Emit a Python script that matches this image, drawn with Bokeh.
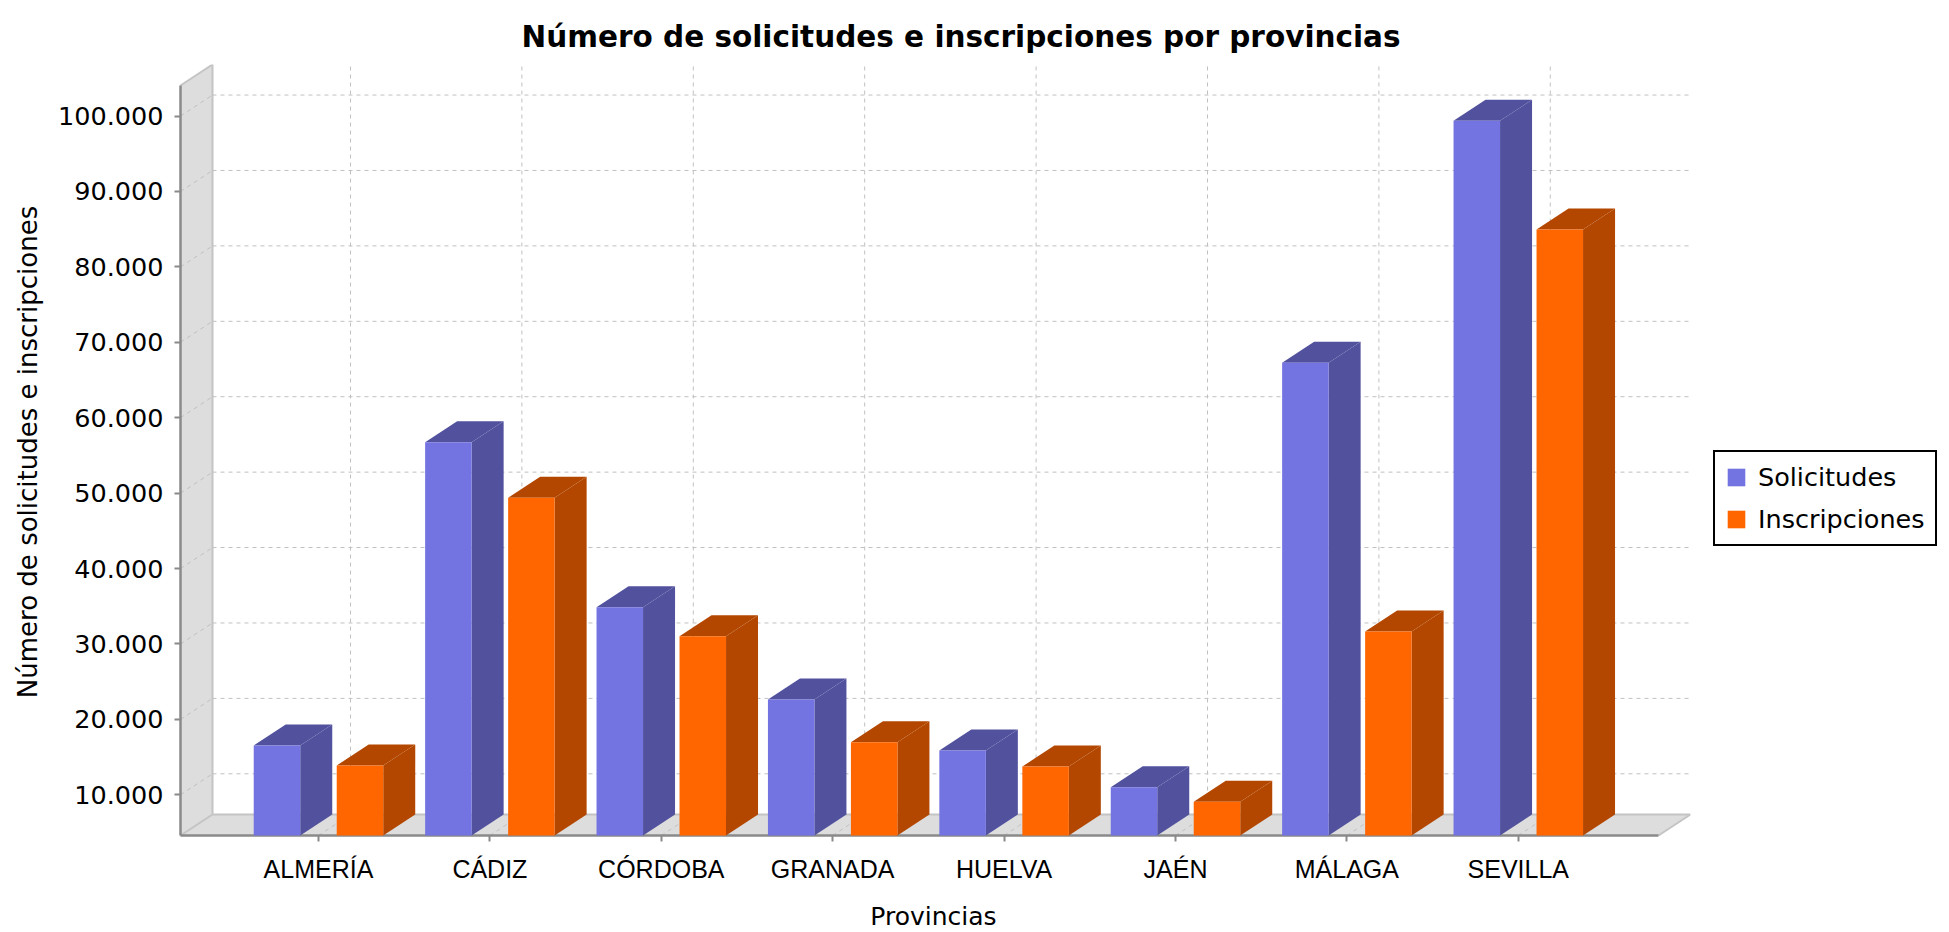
from bokeh.plotting import figure
from bokeh.models import Range1d, FixedTicker, Legend, LegendItem
from bokeh.embed import file_html
from bokeh.resources import INLINE

# ---------------- data ----------------
provincias = ["ALMERÍA", "CÁDIZ", "CÓRDOBA", "GRANADA", "HUELVA", "JAÉN", "MÁLAGA", "SEVILLA"]
solicitudes = [16540, 56750, 34870, 22640, 15870, 11010, 67280, 99370]
inscripciones = [13890, 49380, 31030, 16970, 13750, 9070, 31650, 84950]
series_names = ["Solicitudes", "Inscripciones"]
y_ticks = [10000, 20000, 30000, 40000, 50000, 60000, 70000, 80000, 90000, 100000]
y_tick_labels = ["10.000", "20.000", "30.000", "40.000", "50.000",
                 "60.000", "70.000", "80.000", "90.000", "100.000"]
title_text = "Número de solicitudes e inscripciones por provincias"
x_title = "Provincias"
y_title = "Número de solicitudes e inscripciones"

# ---------------- styling / 3D geometry ----------------
FRONT = ["#7373e1", "#ff6600"]
DARK = ["#51519e", "#b34700"]
WALL = "#dddddd"
WALL_EDGE = "#c4c4c4"
GRID = "#c0c0c0"
AXIS = "#8a8a8a"

Y_MIN = 4604          # value at the front floor line
Y_TOP = 104050        # value at the top of the front axis
DY = 2785             # depth offset in value units
X0, X1 = -0.805, 7.818  # front extent of category axis
DX = 0.1867           # depth offset in category units
BAR_W = 0.2713
BAR_OFF = 0.2421
PAD_X = 4 / 171.39
PAD_Y = 4 * 10000 / 75.42

p = figure(
    frame_width=1514, frame_height=775,
    x_range=Range1d(X0 - PAD_X, X1 + DX),
    y_range=Range1d(Y_MIN - PAD_Y, Y_TOP + DY),
    output_backend="svg", toolbar_location=None,
    min_border_left=176, min_border_top=64, min_border_right=245, min_border_bottom=80,
    background_fill_color="white", border_fill_color="white",
    outline_line_color=None,
)
p.grid.visible = False

# walls
p.patch([X0, X0, X0 + DX, X0 + DX], [Y_MIN, Y_TOP, Y_TOP + DY, Y_MIN + DY],
        fill_color=WALL, line_color=None)
p.patch([X0, X1, X1 + DX, X0 + DX], [Y_MIN, Y_MIN, Y_MIN + DY, Y_MIN + DY],
        fill_color=WALL, line_color=None)
p.segment(x0=[X0 + DX, X0 + DX, X0, X1, X0], y0=[Y_MIN + DY, Y_MIN + DY, Y_TOP, Y_MIN, Y_MIN],
          x1=[X0 + DX, X1 + DX, X0 + DX, X1 + DX, X0 + DX],
          y1=[Y_TOP + DY, Y_MIN + DY, Y_TOP + DY, Y_MIN + DY, Y_MIN + DY],
          line_color=WALL_EDGE, line_width=2)

# gridlines (back wall + side wall + floor)
n = len(provincias)
cats = list(range(n))
p.segment(x0=[X0 + DX] * len(y_ticks), x1=[X1 + DX] * len(y_ticks),
          y0=[t + DY for t in y_ticks], y1=[t + DY for t in y_ticks],
          line_color=GRID, line_width=1, line_dash="4 4")
p.segment(x0=[X0] * len(y_ticks), x1=[X0 + DX] * len(y_ticks),
          y0=y_ticks, y1=[t + DY for t in y_ticks],
          line_color=GRID, line_width=1, line_dash="4 4")
p.segment(x0=[c + DX for c in cats], x1=[c + DX for c in cats],
          y0=[Y_MIN + DY] * n, y1=[Y_TOP + DY] * n,
          line_color=GRID, line_width=1, line_dash="4 4")
p.segment(x0=cats, x1=[c + DX for c in cats],
          y0=[Y_MIN] * n, y1=[Y_MIN + DY] * n,
          line_color=GRID, line_width=1, line_dash="4 4")

# front axis lines
p.segment(x0=[X0, X0], y0=[Y_MIN, Y_MIN], x1=[X0, X1], y1=[Y_TOP, Y_MIN],
          line_color=AXIS, line_width=2.5)

# bars
fronts = []
for s, vals in enumerate([solicitudes, inscripciones]):
    off = -BAR_OFF if s == 0 else BAR_OFF
    lefts = [c + off - BAR_W / 2 for c in cats]
    rights = [c + off + BAR_W / 2 for c in cats]
    side_xs = [[r, r + DX, r + DX, r] for r in rights]
    side_ys = [[Y_MIN, Y_MIN + DY, v + DY, v] for v in vals]
    top_xs = [[l, l + DX, r + DX, r] for l, r in zip(lefts, rights)]
    top_ys = [[v, v + DY, v + DY, v] for v in vals]
    p.patches(side_xs, side_ys, fill_color=DARK[s], line_color=None)
    p.patches(top_xs, top_ys, fill_color=DARK[s], line_color=None)
    r = p.quad(left=lefts, right=rights, bottom=[Y_MIN] * n, top=vals,
               fill_color=FRONT[s], line_color=None)
    fronts.append(r)

# axes
xa = p.xaxis[0]
xa.ticker = FixedTicker(ticks=cats)
xa.major_label_overrides = {c: name for c, name in zip(cats, provincias)}
xa.axis_line_color = None
xa.major_tick_in = 4
xa.major_tick_out = 2
xa.major_tick_line_color = AXIS
xa.major_tick_line_width = 2
xa.minor_tick_line_color = None
xa.major_label_text_font = "Liberation Sans"
xa.major_label_text_font_size = "25px"
xa.major_label_text_color = "black"
xa.major_label_standoff = 13
xa.axis_label = x_title
xa.axis_label_text_font = "DejaVu Sans"
xa.axis_label_text_font_size = "25px"
xa.axis_label_text_font_style = "normal"
xa.axis_label_text_color = "black"
xa.axis_label_standoff = 16

ya = p.yaxis[0]
ya.ticker = FixedTicker(ticks=y_ticks)
ya.major_label_overrides = {t: lab for t, lab in zip(y_ticks, y_tick_labels)}
ya.axis_line_color = None
ya.major_tick_in = 4
ya.major_tick_out = 2
ya.major_tick_line_color = AXIS
ya.major_tick_line_width = 2
ya.minor_tick_line_color = None
ya.major_label_text_font = "DejaVu Sans"
ya.major_label_text_font_size = "25.5px"
ya.major_label_text_color = "black"
ya.major_label_standoff = 11
ya.axis_label = y_title
ya.axis_label_text_font = "DejaVu Sans"
ya.axis_label_text_font_size = "26px"
ya.axis_label_text_font_style = "normal"
ya.axis_label_text_color = "black"
ya.axis_label_standoff = 12

# title
p.title.text = title_text
p.title.text_font = "DejaVu Sans"
p.title.text_font_size = "29.5px"
p.title.text_font_style = "bold"
p.title.text_color = "black"
p.title.align = "left"
p.title.offset = 345
p.title.standoff = 22

# legend
legend = Legend(
    items=[LegendItem(label=series_names[i], renderers=[fronts[i]]) for i in range(2)],
    location=(23, 293),
    border_line_color="black", border_line_width=2, border_line_alpha=1.0,
    background_fill_color="white", background_fill_alpha=1,
    label_text_font="DejaVu Sans", label_text_font_size="25.5px", label_text_color="black",
    glyph_width=22, glyph_height=22, label_standoff=11,
    padding=10, spacing=12, margin=0,
)
p.add_layout(legend, "right")

open("out.html", "w").write(file_html(p, INLINE))
